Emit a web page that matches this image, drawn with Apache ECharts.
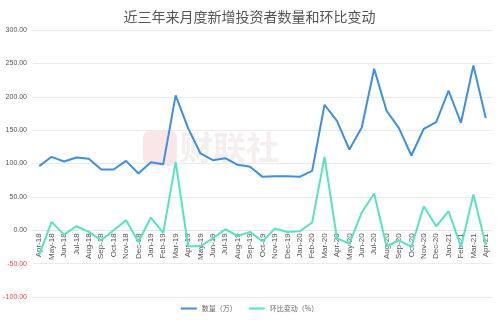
<!DOCTYPE html>
<html>
<head>
<meta charset="utf-8">
<script src="https://cdn.jsdelivr.net/npm/echarts@6/dist/echarts.min.js"></script>
<style>
html,body{margin:0;padding:0;background:#fff;}
#c{width:499px;height:320px;}
</style>
</head>
<body>
<div id="c"></div>
<script>
var categories = ['Apr-18','May-18','Jun-18','Jul-18','Aug-18','Sep-18','Oct-18','Nov-18','Dec-18','Jan-19','Feb-19','Mar-19','Apr-19','May-19','Jun-19','Jul-19','Aug-19','Sep-19','Oct-19','Nov-19','Dec-19','Jan-20','Feb-20','Mar-20','Apr-20','May-20','Jun-20','Jul-20','Aug-20','Sep-20','Oct-20','Nov-20','Dec-20','Jan-21','Feb-21','Mar-21','Apr-21'];
var countValues = [96,110,103,109,107,91,91,104,85,102,99,202,153,115,105,108,98,95,80,81,81,80,89,188,164,121,154,242,179,153,112,152,162,209,161,247,168];
var changeValues = [-37,12.5,-6.5,6,-2.5,-15,0,15,-17.5,19,-4,102.5,-24,-24,-12,1.5,-8.5,-2.5,-16.5,2.5,-2.5,-1.5,11.5,110,-12,-20,26.5,55,-24,-15,-25,36,6,28.5,-25,53.5,-22];
var seriesNames = ['数量（万）','环比变动（%）'];
var titleText = '近三年来月度新增投资者数量和环比变动';

var gridBottom = 23;
var chart = echarts.init(document.getElementById('c'));
chart.setOption({
  animation: false,
  title: {
    text: titleText,
    left: 'center',
    top: 5,
    textStyle: {fontSize: 14, fontWeight: 'normal', color: '#555', fontFamily: 'Noto Sans CJK SC'}
  },
  graphic: [
    {type: 'rect', left: 143, top: 130, shape: {width: 34, height: 36, r: 8}, style: {fill: '#fae6e6'}, z: 0},
    {type: 'text', left: 180, top: 131, style: {text: '财联社', fontSize: 33, fontWeight: 'bold', fill: '#f5eeee', fontFamily: 'Noto Sans CJK SC'}, z: 0}
  ],
  legend: {
    bottom: 3,
    left: 'center',
    icon: 'rect',
    itemWidth: 16,
    itemHeight: 2,
    itemGap: 12,
    textStyle: {fontSize: 7, color: '#666', fontFamily: 'Noto Sans CJK SC'},
    data: seriesNames
  },
  grid: {left: 33, right: 7, top: 30, bottom: gridBottom, containLabel: false, outerBoundsMode: 'none'},
  xAxis: {
    type: 'category',
    data: categories,
    boundaryGap: true,
    offset: 0,
    axisLine: {show: true, onZero: false, lineStyle: {color: '#e6e6e6'}},
    axisTick: {show: false},
    axisLabel: {rotate: 90, interval: 0, fontSize: 8, color: '#555', fontFamily: 'Liberation Sans', margin: 3}
  },
  yAxis: {
    type: 'value',
    min: -100,
    max: 300,
    interval: 50,
    axisLine: {show: false},
    axisTick: {show: false},
    splitLine: {lineStyle: {color: '#ebebeb'}},
    axisLabel: {
      fontSize: 7,
      margin: 6,
      fontFamily: 'Liberation Sans',
      formatter: function (v) { return v.toFixed(2); },
      color: function (v) { return Number(v) < 0 ? '#e0474c' : '#555'; }
    }
  },
  series: [
    {name: seriesNames[0], type: 'line', data: countValues, showSymbol: false, symbol: 'none',
     lineStyle: {width: 2, color: '#3d8fe0'}, itemStyle: {color: '#3d8fe0'}, z: 3},
    {name: seriesNames[1], type: 'line', data: changeValues, showSymbol: false, symbol: 'none',
     lineStyle: {width: 2, color: '#56e3c4'}, itemStyle: {color: '#56e3c4'}, z: 2}
  ]
});
// place the category axis on the zero line of the value axis
var zeroY = chart.convertToPixel({yAxisIndex: 0}, 0);
var bottomY = chart.getHeight() - gridBottom;
chart.setOption({xAxis: {offset: zeroY - bottomY}});
</script>
</body>
</html>
